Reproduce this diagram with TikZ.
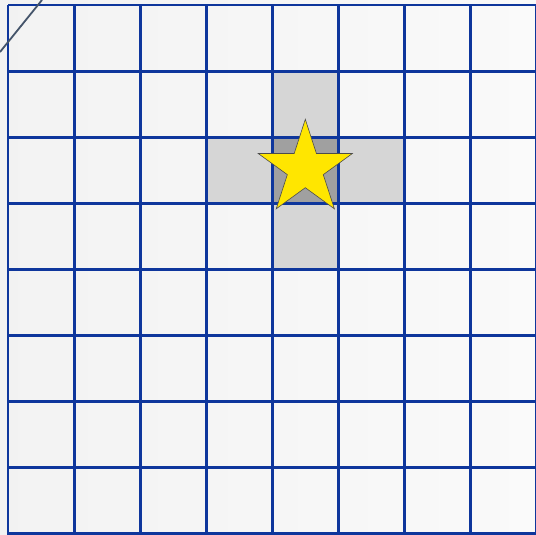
\documentclass[tikz,border=0pt]{standalone}
\usetikzlibrary{shapes.geometric}
\definecolor{gridblue}{RGB}{14,54,156}
\definecolor{cellgray}{RGB}{214,214,214}
\definecolor{centergray}{RGB}{160,160,160}
\definecolor{staryellow}{RGB}{255,230,0}
\definecolor{diagline}{RGB}{68,84,106}
\begin{document}
\begin{tikzpicture}[x=1pt,y=-1pt,
  gridline/.style={draw=gridblue,line width=2.9pt},
  arm/.style={fill=cellgray},
  hub/.style={fill=centergray},
  starshape/.style={star,star points=5,star point ratio=2.618,minimum size=99pt,inner sep=0pt,fill=staryellow,draw=black!70,line width=0.6pt}]
\useasboundingbox (0,0) rectangle (536,535);
\shade[left color=black!5,right color=black!2] (0,0) rectangle (536,535);
% cross cells
\path[arm] (273,71) rectangle (339,269);
\path[arm] (207,137) rectangle (406,203);
\path[hub] (273,137) rectangle (339,203);
% grid
\foreach \i in {0,...,8} {
  \draw[gridline] ({8+66.1*\i},5) -- ({8+66.1*\i},540);
  \draw[gridline] (8,{5+66.1*\i}) -- (540,{5+66.1*\i});
}
% diagonal line
\coordinate (d1) at (0,52);
\coordinate (d2) at (42,0);
\draw[diagline,line width=1.8pt] (d1) -- (d2);
% star
\node[starshape] (star) at (305.3,168.8) {};
\end{tikzpicture}
\end{document}
